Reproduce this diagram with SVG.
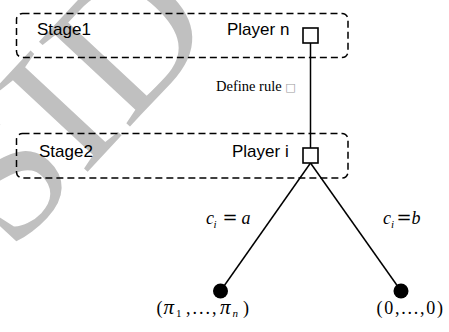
<svg xmlns="http://www.w3.org/2000/svg" width="449" height="332" viewBox="0 0 449 332">
<style>
.stage{fill:none;stroke:#000;stroke-width:1.5;stroke-dasharray:7 4}
.sans{font-family:"Liberation Sans",Arial,sans-serif;font-size:17px;fill:#000}
.ser{font-family:"Liberation Serif","Times New Roman",serif;fill:#000}
.it{font-style:italic}
.pi{font-style:italic;font-size:21px}
.eq{font-family:"DejaVu Serif",serif;font-style:normal}
.sub{font-size:11px}
.edge{stroke:#000;stroke-width:1.5;fill:none}
.dec{fill:#fff;stroke:#000;stroke-width:1.6}
.term{fill:#000}
</style>
<rect width="449" height="332" fill="#fff"/>
<text id="watermark" x="0" y="0" transform="translate(11,254) rotate(-47)" font-family="'Liberation Serif','Times New Roman',serif" font-size="190" fill="#c0c0c0">SID</text>
<g id="stage1">
<rect class="stage" x="16.5" y="13.5" width="331.5" height="44" rx="6"/>
<text class="sans" x="37" y="35">Stage1</text>
<text class="sans" x="227" y="35">Player n</text>
</g>
<g id="stage2">
<rect class="stage" x="16.5" y="133.5" width="331.5" height="44.5" rx="6"/>
<text class="sans" x="39" y="157">Stage2</text>
<text class="sans" x="232" y="157">Player i</text>
</g>
<g id="connectors">
<line class="edge" x1="310.5" y1="43" x2="310.5" y2="148"/>
<line class="edge" x1="310.5" y1="163" x2="220.5" y2="291"/>
<line class="edge" x1="310.5" y1="163" x2="401" y2="291"/>
<text class="ser" x="216" y="91" font-size="14.5">Define rule <tspan fill="#999" font-size="11" font-family="'DejaVu Sans',sans-serif">□</tspan></text>
<text class="ser" x="206" y="223.5" font-size="18"><tspan class="it">c</tspan><tspan class="it sub" x="213.5" y="227.5">i</tspan><tspan class="eq" x="222.5" y="223.5">=</tspan><tspan class="it" x="241.5">a</tspan></text>
<text class="ser" x="383" y="224" font-size="18"><tspan class="it">c</tspan><tspan class="it sub" x="391" y="228">i</tspan><tspan class="eq" x="396.5" y="224">=</tspan><tspan class="it" x="411.5">b</tspan></text>
</g>
<g id="playerN"><rect class="dec" x="303" y="28" width="15" height="15"/></g>
<g id="playerI"><rect class="dec" x="303" y="148" width="15" height="15"/></g>
<g id="outcomeA">
<circle class="term" cx="220.5" cy="291" r="7.5"/>
<text class="ser" y="314" font-size="18"><tspan x="156.5">(</tspan><tspan class="pi" x="163.5">π</tspan><tspan class="sub" x="176" y="317">1</tspan><tspan x="186" y="314" letter-spacing="2">,...,</tspan><tspan class="pi" x="220">π</tspan><tspan class="it sub" x="232.5" y="317">n</tspan><tspan x="243" y="314">)</tspan></text>
</g>
<g id="outcomeB">
<circle class="term" cx="401" cy="291" r="7.5"/>
<text class="ser" x="376.5" y="314" font-size="18" textLength="66.5" lengthAdjust="spacing">(0,...,0)</text>
</g>
</svg>
